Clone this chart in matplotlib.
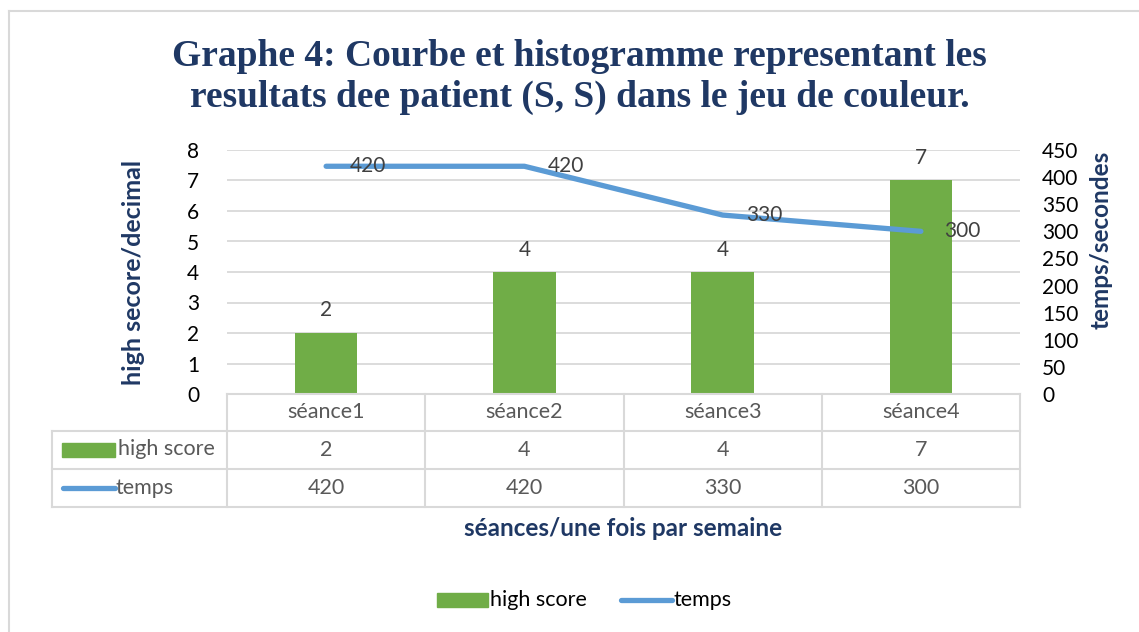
import matplotlib
matplotlib.use("Agg")
import matplotlib.pyplot as plt
import matplotlib.transforms as mtransforms
from matplotlib.lines import Line2D
from matplotlib.patches import Rectangle

# ---- data ----
categories = ["séance1", "séance2", "séance3", "séance4"]
high_score = [2, 4, 4, 7]
temps = [420, 420, 330, 300]
left_ticks = [0, 1, 2, 3, 4, 5, 6, 7, 8]
right_ticks = [0, 50, 100, 150, 200, 250, 300, 350, 400, 450]
series_names = ["high score", "temps"]
title_text = "Graphe 4: Courbe et histogramme representant les\nresultats dee patient (S, S) dans le jeu de couleur."
ylabel_left = "high secore/decimal"
ylabel_right = "temps/secondes"
xlabel = "séances/une fois par semaine"

W, H = 1139, 632
GREEN = "#70AD47"
BLUE = "#5B9BD5"
NAVY = "#1F3864"
GRID = "#D9D9D9"
TXT = "#595959"
SANS = ["Lato", "DejaVu Sans"]
FS_TAB = 15.5

plt.rcParams["font.family"] = SANS

fig = plt.figure(figsize=(W / 100, H / 100), dpi=100)


def fx(x):
    return x / W


def fy(y):
    return 1 - y / H


# outer chart border
fig.add_artist(Line2D([fx(9), fx(9)], [fy(11), 0], color="#D9D9D9", lw=1.5, transform=fig.transFigure))
fig.add_artist(Line2D([fx(9), 1], [fy(11), fy(11)], color="#D9D9D9", lw=1.5, transform=fig.transFigure))

ax = fig.add_axes([fx(227), fy(394), fx(1020) - fx(227), fy(150) - fy(394)])
ax2 = ax.twinx()

x = list(range(len(categories)))
bars = ax.bar(x, high_score, width=0.315, color=GREEN, zorder=2)
ax.set_xlim(-0.5, len(categories) - 0.5)
ax.set_ylim(0, 8)
ax.set_yticks(left_ticks)
for t in left_ticks[1:]:
    ax.axhline(t, color=GRID, lw=1.3, zorder=0)
for s in ax.spines.values():
    s.set_visible(False)
for s in ax2.spines.values():
    s.set_visible(False)
ax.set_xticks([])
ax.tick_params(axis="y", length=0, labelsize=15, pad=20, labelcolor="#000000")
for b, v in zip(bars, high_score):
    ax.annotate(str(v), (b.get_x() + b.get_width() / 2, v), xytext=(0, 9),
                textcoords="offset points", ha="center", va="bottom",
                fontsize=15, color="#404040")

ax2.plot(x, temps, color=BLUE, lw=3.8, solid_capstyle="round", solid_joinstyle="round", zorder=3)
ax2.set_ylim(0, 450)
ax2.set_yticks(right_ticks)
ax2.tick_params(axis="y", length=0, labelsize=15, pad=16, labelcolor="#000000")
for xi, v in zip(x, temps):
    ax2.annotate(str(v), (xi, v), xytext=(17, 0), textcoords="offset points",
                 ha="left", va="center", fontsize=15, color="#404040")

ax.set_ylabel(ylabel_left, fontsize=18, fontweight="bold", color=NAVY)
ax.yaxis.set_label_coords(-0.103, 0.5)
ax2.set_ylabel(ylabel_right, fontsize=17.5, fontweight="bold", color=NAVY)
ax2.yaxis.set_label_coords(1.088, 0.63)

# title
fig.text(0.5 + fx(10), fy(77), title_text, ha="center", va="center", fontsize=27,
         fontweight="bold", color=NAVY, family="Liberation Serif", linespacing=1.2)

# ---- data table ----
blend = mtransforms.blended_transform_factory(ax.transData, fig.transFigure)
row_y = [394, 431, 469, 507]
tcol = "#D9D9D9"
fig.add_artist(Line2D([fx(227), fx(1020)], [fy(row_y[0])] * 2, color=tcol, lw=1.5, transform=fig.transFigure))
for ry in row_y[1:]:
    fig.add_artist(Line2D([fx(52), fx(1020)], [fy(ry)] * 2, color=tcol, lw=1.5, transform=fig.transFigure))
for xb in [-0.5, 0.5, 1.5, 2.5, 3.5]:
    fig.add_artist(Line2D([xb, xb], [fy(row_y[0]), fy(row_y[3])], color=tcol, lw=1.5, transform=blend))
fig.add_artist(Line2D([fx(52), fx(52)], [fy(row_y[1]), fy(row_y[3])], color=tcol, lw=1.5, transform=fig.transFigure))

for i, c in enumerate(categories):
    fig.text(i, fy((row_y[0] + row_y[1]) / 2), c, transform=blend, ha="center", va="center",
             fontsize=FS_TAB, color=TXT)
    fig.text(i, fy((row_y[1] + row_y[2]) / 2), str(high_score[i]), transform=blend, ha="center",
             va="center", fontsize=FS_TAB, color=TXT)
    fig.text(i, fy((row_y[2] + row_y[3]) / 2), str(temps[i]), transform=blend, ha="center",
             va="center", fontsize=FS_TAB, color=TXT)

# legend keys in table
fig.add_artist(Rectangle((fx(62), fy(457)), fx(115) - fx(62), fy(443) - fy(457), color=GREEN,
                         transform=fig.transFigure))
fig.text(fx(118), fy(449), series_names[0], ha="left", va="center", fontsize=FS_TAB, color=TXT)
fig.add_artist(Line2D([fx(63), fx(115)], [fy(488)] * 2, color=BLUE, lw=3.8, solid_capstyle="round",
                      transform=fig.transFigure))
fig.text(fx(116), fy(488), series_names[1], ha="left", va="center", fontsize=FS_TAB, color=TXT)

# x axis title
fig.text(0.5 * (fx(227) + fx(1020)), fy(528), xlabel, ha="center", va="center", fontsize=17.5,
         fontweight="bold", color=NAVY)

# bottom legend
fig.add_artist(Rectangle((fx(437), fy(607)), fx(488) - fx(437), fy(593) - fy(607), color=GREEN,
                         transform=fig.transFigure))
fig.text(fx(490), fy(600), series_names[0], ha="left", va="center", fontsize=FS_TAB, color="#000000")
fig.add_artist(Line2D([fx(621), fx(672)], [fy(600)] * 2, color=BLUE, lw=3.8, solid_capstyle="round",
                      transform=fig.transFigure))
fig.text(fx(674), fy(600), series_names[1], ha="left", va="center", fontsize=FS_TAB, color="#000000")

fig.savefig("out.png", dpi=100, facecolor="white")
